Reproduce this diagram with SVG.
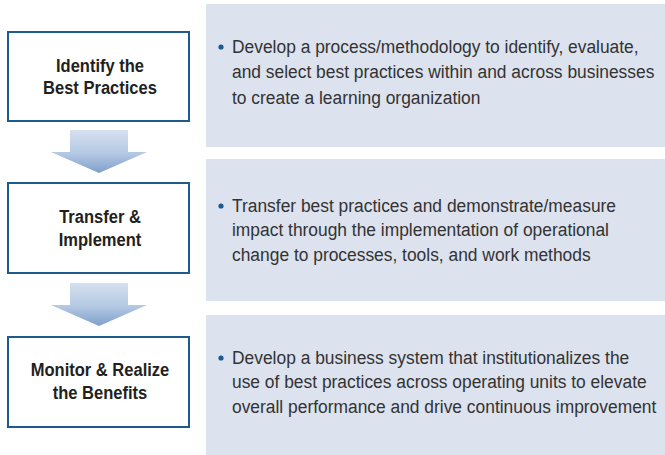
<svg xmlns="http://www.w3.org/2000/svg" width="665" height="455" viewBox="0 0 665 455">
<style>
.panel{fill:#dce2ee}
.box{fill:#ffffff;stroke:#1d5a8e;stroke-width:2}
.bt{font-family:"Liberation Sans",Arial,sans-serif;font-weight:bold;font-size:19px;fill:#231f20;text-anchor:middle}
.pt{font-family:"Liberation Sans",Arial,sans-serif;font-size:19px;fill:#333333}
.dot{fill:#1d5a8e}
.arrow{fill:url(#ag)}
</style>
<defs>
<linearGradient id="ag" x1="0" y1="0" x2="0" y2="1">
<stop offset="0" stop-color="#d6e0ef"/>
<stop offset="0.55" stop-color="#b3c8e3"/>
<stop offset="1" stop-color="#7f9fcb"/>
</linearGradient>
</defs>
<rect width="665" height="455" fill="#ffffff"/>
<g id="panel1">
<rect class="panel" x="206" y="4" width="459" height="143"/>
<circle class="dot" cx="221" cy="47" r="2.6"/>
<text class="pt" transform="translate(232 0) scale(0.916 1)"><tspan x="0" y="53">Develop a process/methodology to identify, evaluate,</tspan><tspan x="0" y="78.5">and select best practices within and across businesses</tspan><tspan x="0" y="104">to create a learning organization</tspan></text>
</g>
<g id="panel2">
<rect class="panel" x="206" y="159" width="459" height="142"/>
<circle class="dot" cx="221" cy="206" r="2.6"/>
<text class="pt" transform="translate(232 0) scale(0.916 1)"><tspan x="0" y="212">Transfer best practices and demonstrate/measure</tspan><tspan x="0" y="236.5">impact through the implementation of operational</tspan><tspan x="0" y="261">change to processes, tools, and work methods</tspan></text>
</g>
<g id="panel3">
<rect class="panel" x="206" y="315" width="459" height="140"/>
<circle class="dot" cx="221" cy="358" r="2.6"/>
<text class="pt" transform="translate(232 0) scale(0.916 1)"><tspan x="0" y="364">Develop a business system that institutionalizes the</tspan><tspan x="0" y="388.5">use of best practices across operating units to elevate</tspan><tspan x="0" y="413">overall performance and drive continuous improvement</tspan></text>
</g>
<g id="connectors">
<polygon class="arrow" points="70,130 128,130 128,152 147,152 99,173 51,152 70,152"/>
<polygon class="arrow" points="70,283 128,283 128,305 147,305 99,326 51,305 70,305"/>
</g>
<g id="node1">
<rect class="box" x="8" y="32" width="181" height="89"/>
<text class="bt" transform="translate(100 72) scale(0.87 1)">Identify the</text>
<text class="bt" transform="translate(100 94) scale(0.87 1)">Best Practices</text>
</g>
<g id="node2">
<rect class="box" x="8" y="183" width="181" height="90"/>
<text class="bt" transform="translate(100 223) scale(0.87 1)">Transfer &amp;</text>
<text class="bt" transform="translate(100 246) scale(0.87 1)">Implement</text>
</g>
<g id="node3">
<rect class="box" x="8" y="337" width="181" height="90"/>
<text class="bt" transform="translate(100 376) scale(0.87 1)">Monitor &amp; Realize</text>
<text class="bt" transform="translate(100 399) scale(0.87 1)">the Benefits</text>
</g>
</svg>
